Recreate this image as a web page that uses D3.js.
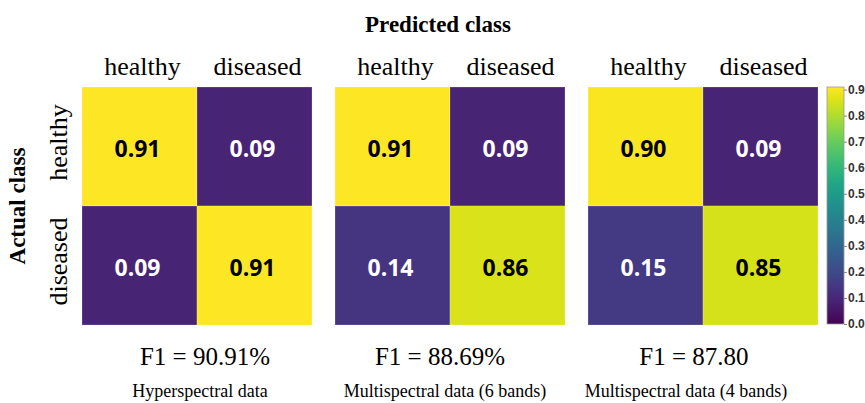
<!DOCTYPE html>
<html>
<head>
<meta charset="utf-8">
<script src="https://cdn.jsdelivr.net/npm/d3@7"></script>
<style>
  html, body { margin: 0; padding: 0; background: #fff; }
  svg { display: block; }
</style>
</head>
<body>
<svg id="chart" width="865" height="403"></svg>
<script>
// ---- data ----
const classes = ["healthy", "diseased"];
const panelTitles = ["Hyperspectral data", "Multispectral data (6 bands)", "Multispectral data (4 bands)"];
const f1Labels = ["F1 = 90.91%", "F1 = 88.69%", "F1 = 87.80"];
const hyperValues = [[0.91, 0.09], [0.09, 0.91]];
const ms6Values = [[0.91, 0.09], [0.14, 0.86]];
const ms4Values = [[0.90, 0.09], [0.15, 0.85]];
const colorbarTicks = [0.0, 0.1, 0.2, 0.3, 0.4, 0.5, 0.6, 0.7, 0.8, 0.9];
const colorMax = 0.91;

// ---- layout ----
const panels = [hyperValues, ms6Values, ms4Values];
const panelX = [82, 335, 588];
const panelW = 230;
const gridTop = 87, gridBottom = 325;
const serif = "'Liberation Serif', 'Times New Roman', serif";

const svg = d3.select("#chart");
const color = d3.scaleSequential(d3.interpolateViridis).domain([0, colorMax]);
const yBand = d3.scaleBand().domain(classes).range([gridTop, gridBottom]);

// titles
svg.append("text")
  .attr("x", 438).attr("y", 32)
  .attr("text-anchor", "middle")
  .style("font-family", serif).style("font-weight", "bold").style("font-size", "23px")
  .text("Predicted class");

svg.append("text")
  .attr("transform", `translate(25, ${(gridTop + gridBottom) / 2}) rotate(-90)`)
  .attr("text-anchor", "middle")
  .style("font-family", serif).style("font-weight", "bold").style("font-size", "23px")
  .text("Actual class");

// row labels (first panel only)
svg.selectAll("text.rowlab").data(classes).enter().append("text")
  .attr("class", "rowlab")
  .attr("transform", d => `translate(67, ${yBand(d) + yBand.bandwidth() / 2 - 4}) rotate(-90)`)
  .attr("text-anchor", "middle")
  .style("font-family", serif).style("font-size", "26px")
  .text(d => d);

panels.forEach((vals, p) => {
  const x0 = panelX[p];
  const xBand = d3.scaleBand().domain(classes).range([x0, x0 + panelW]);
  const g = svg.append("g");

  const cells = [];
  classes.forEach((actual, i) => classes.forEach((pred, j) => {
    cells.push({ actual, pred, v: vals[i][j] });
  }));

  g.selectAll("rect").data(cells).enter().append("rect")
    .attr("x", d => xBand(d.pred))
    .attr("y", d => yBand(d.actual))
    .attr("width", xBand.bandwidth())
    .attr("height", yBand.bandwidth())
    .attr("fill", d => color(d.v))
    .attr("stroke", "rgba(255,255,255,0.35)")
    .attr("stroke-width", 0.6);

  g.selectAll("text.val").data(cells).enter().append("text")
    .attr("class", "val")
    .attr("x", d => xBand(d.pred) + xBand.bandwidth() / 2 - 2)
    .attr("y", d => yBand(d.actual) + yBand.bandwidth() / 2 + 2)
    .attr("dy", "0.36em")
    .attr("text-anchor", "middle")
    .style("font-family", "'Open Sans', sans-serif")
    .style("font-weight", "bold").style("font-size", "23px")
    .attr("fill", d => d.v > 0.5 ? "#000" : "#fff")
    .text(d => d3.format(".2f")(d.v));

  g.selectAll("text.collab").data(classes).enter().append("text")
    .attr("class", "collab")
    .attr("x", d => xBand(d) + xBand.bandwidth() / 2 + 3)
    .attr("y", 75)
    .attr("text-anchor", "middle")
    .style("font-family", serif).style("font-size", "26px")
    .text(d => d);

  g.append("text")
    .attr("x", x0 + panelW / 2 + [8, -10, -9][p])
    .attr("y", 365)
    .attr("text-anchor", "middle")
    .style("font-family", serif).style("font-size", "25px")
    .text(f1Labels[p]);

  g.append("text")
    .attr("x", x0 + panelW / 2 + [3, -5, -17][p])
    .attr("y", 397)
    .attr("text-anchor", "middle")
    .style("font-family", serif).style("font-size", "18px")
    .text(panelTitles[p]);
});

// ---- colorbar ----
const cbX = 827, cbW = 17;
const cbScale = d3.scaleLinear().domain([0, colorMax]).range([324, 87]);
const defs = svg.append("defs");
const grad = defs.append("linearGradient").attr("id", "cbgrad")
  .attr("x1", "0").attr("y1", "1").attr("x2", "0").attr("y2", "0");
d3.range(0, 1.0001, 0.05).forEach(t => {
  grad.append("stop").attr("offset", t).attr("stop-color", color(t * colorMax));
});
svg.append("rect")
  .attr("x", cbX).attr("y", cbScale(colorMax))
  .attr("width", cbW).attr("height", cbScale(0) - cbScale(colorMax))
  .attr("fill", "url(#cbgrad)")
  .attr("stroke", "#999").attr("stroke-width", 0.8);

const cbAxis = d3.axisRight(cbScale).tickValues(colorbarTicks).tickSize(3).tickFormat(d3.format(".1f"));
const ag = svg.append("g").attr("transform", `translate(${cbX + cbW}, 0)`).call(cbAxis);
ag.select(".domain").remove();
ag.selectAll(".tick line").attr("stroke", "#888");
ag.selectAll(".tick text")
  .attr("x", 4)
  .style("font-family", "'Liberation Sans', Arial, sans-serif")
  .style("font-weight", "bold").style("font-size", "12px")
  .attr("fill", "#333");
</script>
</body>
</html>
